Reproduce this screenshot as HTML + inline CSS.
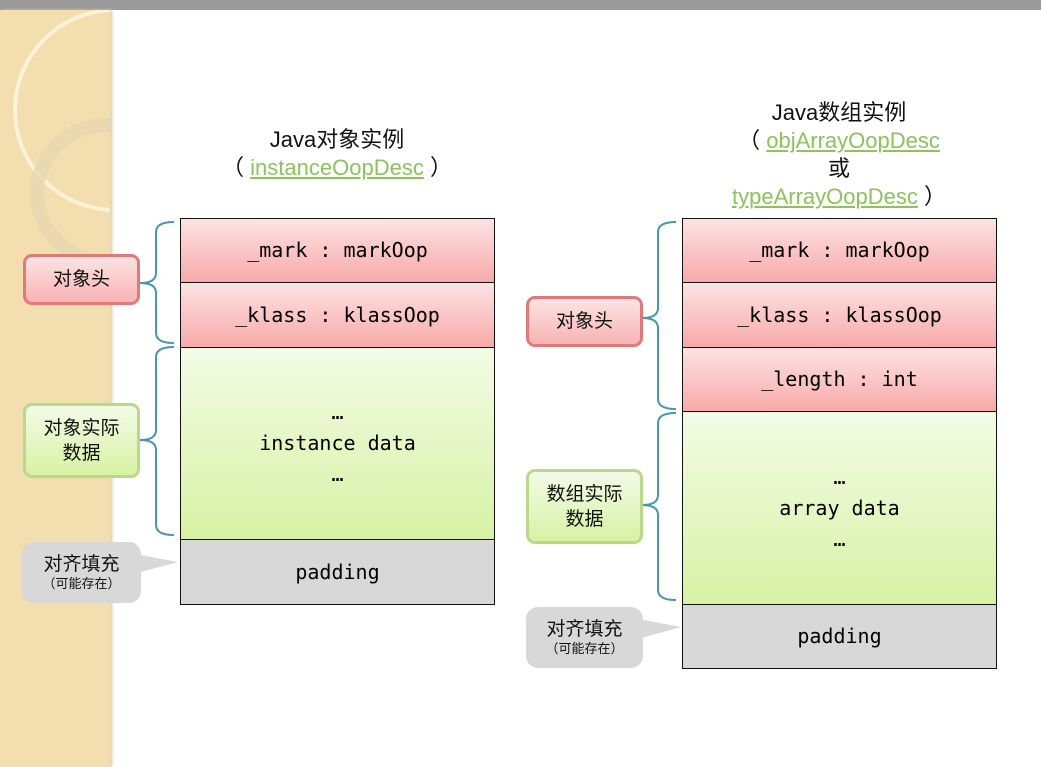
<!DOCTYPE html>
<html><head><meta charset="utf-8"><style>
body{margin:0;width:1041px;height:767px;position:relative;overflow:hidden;background:#fff;font-family:"Liberation Sans","Noto Sans CJK SC",sans-serif}
.top{position:absolute;left:0;top:0;width:1041px;height:10px;background:#9a9a9a}
.strip{position:absolute;left:0;top:10px;width:110px;height:757px;background:#f3deb0;box-shadow:2px 0 3px #d9c9a6}
.c{position:absolute;box-sizing:border-box;border:1px solid #111;display:flex;align-items:center;justify-content:center;text-align:center;font-family:"DejaVu Sans Mono","Liberation Mono",monospace;font-size:20px;color:#000;line-height:31px}
.r{background:linear-gradient(#fde3e3,#f8a9a9)}
.g{background:linear-gradient(#f3fbe6,#d8f2a4)}
.p{background:#d8d8d8}
.l{position:absolute;box-sizing:border-box;border-radius:9px;display:flex;align-items:center;justify-content:center;text-align:center;font-size:19px;line-height:25px;color:#111}
.lr{border:3px solid #e07a7a;background:linear-gradient(#fde3e3,#f8b3b3)}
.lg{border:3px solid #b8d98a;background:linear-gradient(#f3fbe6,#d8f2a4)}
.lp{background:#d8d8d8;border-radius:12px;flex-direction:column;line-height:22px}
.lp small{font-size:13px;line-height:15px}
.t{position:absolute;text-align:center;font-size:22px;line-height:28px;color:#111}
.t a{color:#8cc35a;text-decoration:underline}
</style></head><body>
<div class="top"></div>
<div class="strip">
<svg width="110" height="757" style="position:absolute;left:0;top:0">
<circle cx="115" cy="100" r="100" fill="none" stroke="#fbf2d8" stroke-width="4"/>
<circle cx="105" cy="183" r="68" fill="none" stroke="#e6d6b0" stroke-width="14" opacity=".7"/>
</svg></div>

<div class="t" style="left:180px;top:126px;width:314px">Java对象实例<br>（ <a>instanceOopDesc</a> ）</div>
<div class="t" style="left:682px;top:99px;width:314px">Java数组实例<br>（ <a>objArrayOopDesc</a><br>或<br><a>typeArrayOopDesc</a> ）</div>

<div class="c r" style="left:180px;top:218px;width:315px;height:65px">_mark : markOop</div>
<div class="c r" style="left:180px;top:282px;width:315px;height:66px">_klass : klassOop</div>
<div class="c g" style="left:180px;top:347px;width:315px;height:193px">…<br>instance data<br>…</div>
<div class="c p" style="left:180px;top:539px;width:315px;height:66px">padding</div>

<div class="c r" style="left:682px;top:218px;width:315px;height:65px">_mark : markOop</div>
<div class="c r" style="left:682px;top:282px;width:315px;height:66px">_klass : klassOop</div>
<div class="c r" style="left:682px;top:347px;width:315px;height:65px">_length : int</div>
<div class="c g" style="left:682px;top:411px;width:315px;height:194px">…<br>array data<br>…</div>
<div class="c p" style="left:682px;top:604px;width:315px;height:65px">padding</div>

<svg width="1041" height="767" style="position:absolute;left:0;top:0">
<g fill="none" stroke="#4a97aa" stroke-width="2">
<path d="M174 222 Q156 222 156 232 L156 273 Q156 283 140 283 Q156 283 156 293 L156 333 Q156 343 174 343"/>
<path d="M174 347 Q156 347 156 357 L156 430 Q156 440 140 440 Q156 440 156 450 L156 525 Q156 535 174 535"/>
<path d="M676 222 Q658 222 658 232 L658 308 Q658 318 642 318 Q658 318 658 328 L658 399 Q658 409 676 409"/>
<path d="M676 413 Q658 413 658 423 L658 495 Q658 505 642 505 Q658 505 658 515 L658 590 Q658 600 676 600"/>
</g>
<polygon points="130,553 178,562 130,575" fill="#d8d8d8"/>
<polygon points="634,618 681,627 634,640" fill="#d8d8d8"/>
</svg>

<div class="l lr" style="left:23px;top:254px;width:117px;height:51px">对象头</div>
<div class="l lg" style="left:23px;top:403px;width:117px;height:75px">对象实际<br>数据</div>
<div class="l lp" style="left:22px;top:542px;width:119px;height:61px">对齐填充<small>（可能存在）</small></div>

<div class="l lr" style="left:526px;top:296px;width:117px;height:51px">对象头</div>
<div class="l lg" style="left:526px;top:469px;width:117px;height:75px">数组实际<br>数据</div>
<div class="l lp" style="left:526px;top:607px;width:117px;height:61px">对齐填充<small>（可能存在）</small></div>
</body></html>
